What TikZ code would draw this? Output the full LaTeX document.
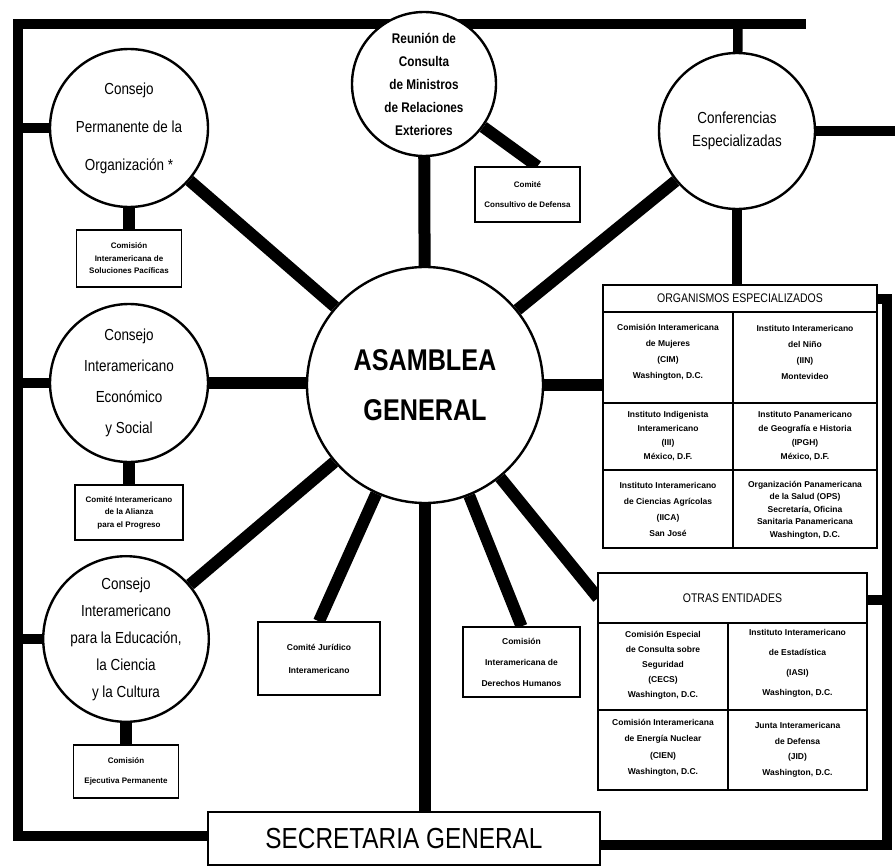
\documentclass[tikz,border=0pt]{standalone}
\usepackage{fontspec}
\setmainfont{Liberation Sans}
\newfontfamily\condfont[FakeStretch=0.84]{Liberation Sans}
\usetikzlibrary{calc}
\pgfdeclarelayer{back}
\pgfsetlayers{back,main}

\tikzset{
  organ/.style={circle, draw, line width=2.4pt, fill=white, inner sep=0pt, align=center},
  ctext/.style={font=\condfont\fontsize{16}{#1}\selectfont},
  smallbox/.style={draw, line width=1.3pt, fill=white, inner sep=0pt, align=center},
  stext/.style={font=\fontsize{8}{#1}\selectfont\bfseries},
  tablebox/.style={draw, line width=1.3pt, fill=white, inner sep=0pt},
  tabtitle/.style={inner sep=0pt, font=\condfont\fontsize{12.5}{14}\selectfont},
  cell/.style={inner sep=0pt, align=center, font=\fontsize{8.5}{#1}\selectfont\bfseries},
  spoke/.style={line width=12pt, line cap=butt},
  link/.style={line width=12pt, line cap=butt},
  frame/.style={line width=9.5pt, line cap=butt, line join=miter},
  rule/.style={line width=1.3pt}
}

\begin{document}
\begin{tikzpicture}[x=1pt,y=-1pt]
\useasboundingbox (0,0) rectangle (895,867);

% ---- central assembly and the councils around it
\node[organ, minimum size=236pt, font=\condfont\bfseries\fontsize{30}{50}\selectfont]
  (asamblea) at (425,385) {ASAMBLEA\\GENERAL};
\node[organ, minimum size=144pt, font=\condfont\bfseries\fontsize{14}{23}\selectfont]
  (reunion) at (424,84) {Reunión de\\Consulta\\de Ministros\\de Relaciones\\Exteriores};
\node[organ, minimum size=158pt, ctext=38] (permanente) at (129,128)
  {Consejo\\Permanente de la\\Organización *};
\node[organ, minimum size=158pt, ctext=31] (economico) at (129,383)
  {Consejo\\Interamericano\\Económico\\y Social};
\node[organ, minimum size=156pt, ctext=27] (educacion) at (126,639)
  {Consejo\\Interamericano\\para la Educación,\\la Ciencia\\y la Cultura};
\node[organ, minimum size=156pt, ctext=23] (conferencias) at (737,131)
  {Conferencias\\Especializadas};

% ---- dependent committees
\node[smallbox, minimum width=105pt, minimum height=57pt, stext=12.5] (permbox) at (129,258.5)
  {Comisión\\Interamericana de\\Soluciones Pacíficas};
\node[smallbox, minimum width=105pt, minimum height=55pt, stext=20] (defensa) at (527.5,194.5)
  {Comité\\Consultivo de Defensa};
\node[smallbox, minimum width=108pt, minimum height=55pt, stext=12.5] (econbox) at (129,512.5)
  {Comité Interamericano\\de la Alianza\\para el Progreso};
\node[smallbox, minimum width=105pt, minimum height=53pt, stext=20] (educbox) at (126,771.5)
  {Comisión\\Ejecutiva Permanente};
\node[smallbox, minimum width=122pt, minimum height=73pt, font=\fontsize{8.5}{23}\selectfont\bfseries]
  (juridico) at (319,658.5) {Comité Jurídico\\Interamericano};
\node[smallbox, minimum width=117pt, minimum height=70pt, font=\fontsize{8.5}{21}\selectfont\bfseries]
  (cidh) at (521.5,662) {Comisión\\Interamericana de\\Derechos Humanos};

\node[draw, line width=2pt, fill=white, minimum width=392pt, minimum height=53pt, inner sep=0pt,
  font=\condfont\fontsize{29}{32}\selectfont] (secretaria) at (404,838.5) {SECRETARIA GENERAL};

% ---- specialised organisations table
\node[tablebox, minimum width=274pt, minimum height=263pt] (orgbox) at (740,416.5) {};
\draw[rule] (603,312) -- (877,312);
\draw[rule] (603,403) -- (877,403);
\draw[rule] (603,470) -- (877,470);
\draw[rule] (733,312) -- (733,548);
\node[tabtitle] (orgtitle) at (740,298.5) {ORGANISMOS ESPECIALIZADOS};
\node[cell=16] (cim) at (668,352) {Comisión Interamericana\\de Mujeres\\(CIM)\\Washington, D.C.};
\node[cell=16] (iin) at (805,352) {Instituto Interamericano\\del Niño\\(IIN)\\Montevideo};
\node[cell=14] (iii) at (668,436) {Instituto Indigenista\\Interamericano\\(III)\\México, D.F.};
\node[cell=14] (ipgh) at (805,436) {Instituto Panamericano\\de Geografía e Historia\\(IPGH)\\México, D.F.};
\node[cell=16] (iica) at (668,509) {Instituto Interamericano\\de Ciencias Agrícolas\\(IICA)\\San José};
\node[cell=12.5] (ops) at (805,510) {Organización Panamericana\\de la Salud (OPS)\\Secretaría, Oficina\\Sanitaria Panamericana\\Washington, D.C.};

% ---- other entities table
\node[tablebox, minimum width=269pt, minimum height=217pt] (otras) at (732.5,681.5) {};
\draw[rule] (598,623) -- (867,623);
\draw[rule] (598,710) -- (867,710);
\draw[rule] (728,623) -- (728,790);
\node[tabtitle] (otrastitle) at (732.5,598) {OTRAS ENTIDADES};
\node[cell=15] (cecs) at (663,665) {Comisión Especial\\de Consulta sobre\\Seguridad\\(CECS)\\Washington, D.C.};
\node[cell=20] (iasi) at (797.5,663) {Instituto Interamericano\\de Estadística\\(IASI)\\Washington, D.C.};
\node[cell=16.5] (cien) at (663,748) {Comisión Interamericana\\de Energía Nuclear\\(CIEN)\\Washington, D.C.};
\node[cell=15.5] (jid) at (797.5,750) {Junta Interamericana\\de Defensa\\(JID)\\Washington, D.C.};

% ---- frame coordinates
\coordinate (tl) at (18,24);
\coordinate (bl) at (18,836);
\coordinate (tr) at (738,24);
\coordinate (tend) at (806,24);
\coordinate (br) at (887,845);
\coordinate (rt) at (887,299);
\coordinate (ro) at (887,600);
\coordinate (re) at (895,131);
\coordinate (otrasin) at (598,598);

\begin{pgfonlayer}{back}
  % outer frame
  \draw[frame] (bl -| secretaria.west) -- (bl) -- (tl) -- (tend);
  \draw[frame] (tr) -- (conferencias);
  \draw[frame] (secretaria.east |- br) -- (br) -- (rt) -- (rt -| orgbox.east);
  \draw[frame] (ro) -- (ro -| otras.east);
  \draw[frame] (conferencias) -- (re);
  \draw[frame] (conferencias) -- (conferencias |- orgbox.north);
  \draw[frame] (permanente) -- (permanente -| tl);
  \draw[frame] (economico) -- (economico -| tl);
  \draw[frame] (educacion) -- (educacion -| tl);
  % spokes from the assembly
  \draw[spoke] (asamblea) -- (reunion);
  \draw[spoke] (asamblea) -- (permanente);
  \draw[spoke] (asamblea) -- (conferencias);
  \draw[spoke] (economico) -- (economico -| asamblea.west);
  \draw[spoke] (asamblea) -- (asamblea -| orgbox.west);
  \draw[spoke] (asamblea) -- (educacion);
  \draw[spoke] (asamblea) -- (juridico.north);
  \draw[spoke] (asamblea) -- (asamblea |- secretaria.north);
  \draw[spoke] (asamblea) -- (cidh.north);
  \draw[spoke] (asamblea) -- (otrasin);
  % committees hanging from their councils
  \draw[link] (permanente) -- (permbox);
  \draw[link] (economico) -- (econbox);
  \draw[link] (educacion) -- (educbox);
  \draw[link] (reunion) -- ([xshift=10pt]defensa.north);
\end{pgfonlayer}
\end{tikzpicture}
\end{document}
